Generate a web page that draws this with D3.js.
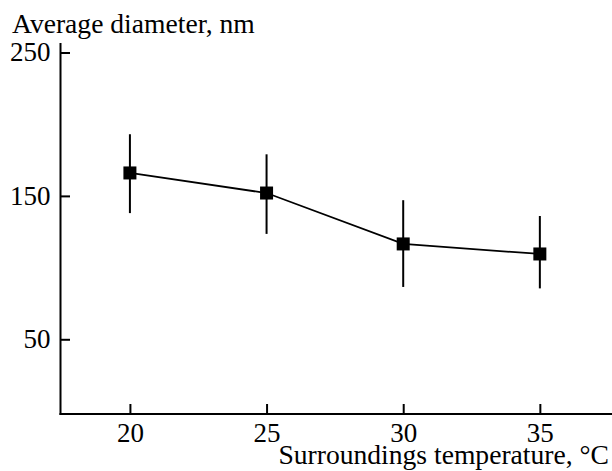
<!DOCTYPE html>
<html>
<head>
<meta charset="utf-8">
<script src="https://cdn.jsdelivr.net/npm/d3@7"></script>
<style>
  html, body { margin: 0; padding: 0; background: #fff; }
  svg { display: block; }
  svg text { font-family: "Liberation Serif", "Times New Roman", Times, "DejaVu Serif", serif; fill: #000; }
</style>
</head>
<body>
<div id="chart"></div>
<script>
// Average particle diameter vs. surroundings temperature, with error bars
const temperatures = [20, 25, 30, 35];
const diameters    = [166, 152, 116.5, 109.5];
const errorUpper   = [193, 179, 147, 136];
const errorLower   = [138, 123.5, 86.5, 85.5];
const xTicks = [20, 25, 30, 35];
const yTicks = [50, 150, 250];

const width = 612, height = 471;
const fontSize = 27;
const titleSize = 27.6;
const serif = '"Liberation Serif", "Times New Roman", Times, serif';

const svg = d3.select("#chart").append("svg")
  .attr("width", width).attr("height", height)
  .attr("font-family", serif);

const x = d3.scaleLinear().domain([17.46, 37.64]).range([60.5, 612]);
const y = d3.scaleLinear().domain([-2.1, 250]).range([414, 52.5]);

const data = temperatures.map((t, i) => ({
  t, d: diameters[i], hi: errorUpper[i], lo: errorLower[i]
}));

// Y axis: ticks point inward, labels on the left
const yAxis = svg.append("g").attr("transform", `translate(${x.range()[0]},0)`)
  .call(d3.axisRight(y).tickValues(yTicks).tickSize(9.5).tickFormat(d3.format("d")));
yAxis.attr("font-family", serif).attr("font-size", fontSize);
yAxis.select(".domain").remove();
yAxis.selectAll(".tick line").attr("stroke", "#000").attr("stroke-width", 2);
yAxis.selectAll(".tick text")
  .attr("x", -10).attr("dy", "0.3em")
  .attr("text-anchor", "end");
svg.append("line")
  .attr("x1", x.range()[0]).attr("x2", x.range()[0])
  .attr("y1", 43).attr("y2", y.range()[0] + 1)
  .attr("stroke", "#000").attr("stroke-width", 2);

// X axis: ticks point up into the plot
const xAxis = svg.append("g").attr("transform", `translate(0,${y.range()[0]})`)
  .call(d3.axisTop(x).tickValues(xTicks).tickSize(10).tickFormat(d3.format("d")));
xAxis.attr("font-family", serif).attr("font-size", fontSize);
xAxis.select(".domain").remove();
xAxis.selectAll(".tick line").attr("stroke", "#000").attr("stroke-width", 2);
xAxis.selectAll(".tick text")
  .attr("y", 28).attr("dy", 0)
  .attr("text-anchor", "middle");
svg.append("line")
  .attr("x1", x.range()[0] - 1).attr("x2", width)
  .attr("y1", y.range()[0]).attr("y2", y.range()[0])
  .attr("stroke", "#000").attr("stroke-width", 2);

// Axis titles
svg.append("text")
  .attr("x", 12).attr("y", 33)
  .attr("font-size", titleSize)
  .text("Average diameter, nm");
svg.append("text")
  .attr("x", 609).attr("y", 464)
  .attr("text-anchor", "end")
  .attr("font-size", titleSize)
  .text("Surroundings temperature, °C");

// Error bars
svg.append("g").selectAll("line").data(data).join("line")
  .attr("x1", d => x(d.t)).attr("x2", d => x(d.t))
  .attr("y1", d => y(d.hi)).attr("y2", d => y(d.lo))
  .attr("stroke", "#000").attr("stroke-width", 2);

// Connecting line
svg.append("path").datum(data)
  .attr("fill", "none").attr("stroke", "#000").attr("stroke-width", 1.8)
  .attr("d", d3.line().x(d => x(d.t)).y(d => y(d.d)));

// Square markers
const s = 13;
svg.append("g").selectAll("rect").data(data).join("rect")
  .attr("x", d => x(d.t) - s / 2).attr("y", d => y(d.d) - s / 2)
  .attr("width", s).attr("height", s)
  .attr("fill", "#000");
</script>
</body>
</html>
